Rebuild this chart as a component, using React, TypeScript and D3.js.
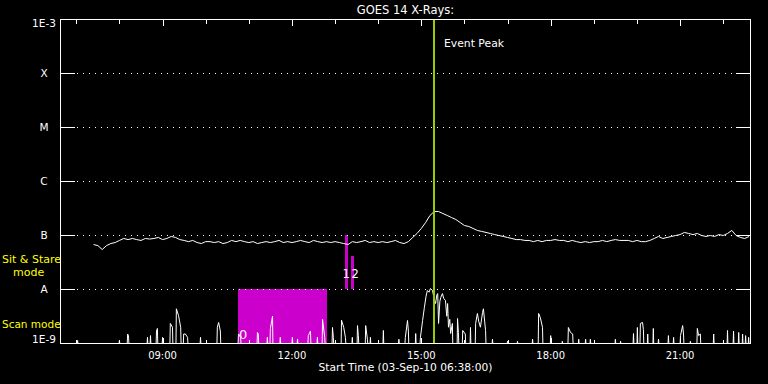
import React from "react";
import * as d3 from "d3";

const W = 768;
const H = 384;

const startHour = 6 + 38 / 60; // 06:38
const endHour = startHour + 16; // 22:38

const levelLabels = ["1E-9", "A", "B", "C", "M", "X", "1E-3"];
const levelValues = [1e-9, 1e-8, 1e-7, 1e-6, 1e-5, 1e-4, 1e-3];
const tickHours = [7, 8, 9, 10, 11, 12, 13, 14, 15, 16, 17, 18, 19, 20, 21, 22];
const majorTickHours = [9, 12, 15, 18, 21];
const majorTickLabels = ["09:00", "12:00", "15:00", "18:00", "21:00"];
const xTitle = "Start Time (03-Sep-10 06:38:00)";
const title = "GOES 14 X-Rays:";

// long channel (1-8 A), sampled every 0.1 h from 07:24, units of 1e-8 W/m^2
const longStartHour = 7.4;
const longStepHour = 0.1;
const longFlux = [
  6.8, 6.5, 5.5, 6.5, 7.1, 7.4, 8.1, 8.8, 8.4, 8.8,
  8.4, 8.1, 8.8, 8.6, 8.8, 9.2, 8.4, 8.8, 9.6, 9.2,
  8.4, 8.1, 7.7, 8.1, 7.4, 7.1, 7.7, 7.7, 7.4, 7.7,
  7.1, 7.4, 8.1, 7.7, 8.1, 7.7, 7.4, 7.7, 7.1, 7.4,
  7.7, 7.4, 7.7, 8.1, 7.4, 7.7, 7.4, 7.7, 8.1, 7.7,
  7.4, 8.1, 7.7, 7.4, 7.7, 7.4, 7.7, 7.4, 7.1, 6.8,
  7.7, 7.4, 7.7, 8.1, 7.4, 7.7, 7.4, 7.7, 7.4, 7.7,
  8.1, 7.4, 7.1, 7.7, 9.2, 10.9, 13.5, 17.4, 23.5, 27.8,
  27.8, 25.5, 23.5, 21.5, 19.8, 17.4, 15.3, 14.7, 13.5, 12.4,
  11.9, 11.4, 10.9, 10.4, 10.0, 9.6, 9.2, 8.8, 8.4, 8.4,
  8.1, 8.1, 7.7, 8.1, 7.7, 8.1, 8.1, 8.4, 8.1, 8.1,
  7.7, 8.1, 7.7, 7.4, 7.7, 7.4, 7.7, 7.7, 8.1, 7.7,
  8.1, 8.4, 8.1, 8.1, 8.1, 7.7, 8.1, 7.7, 7.7, 8.1,
  8.8, 9.6, 8.8, 9.2, 9.6, 10.0, 10.4, 11.4, 10.9, 10.4,
  10.9, 10.0, 9.6, 10.0, 9.6, 10.4, 10.0, 10.9, 12.4, 10.0,
  9.2, 8.8, 9.6,
];

// short channel (0.5-4 A) peaks: [hour, flux in 1e-9 W/m^2]
const shortSpikes: [number, number][] = [
  [7.03, 1.14], [8.0, 1.14], [8.19, 1.5], [8.21, 1.4], [8.65, 1.3], [8.72, 1.4],
  [8.86, 1.7], [8.88, 1.9], [9.0, 1.3], [9.18, 2.35], [9.23, 2.0], [9.32, 4.4],
  [9.37, 3.3], [9.42, 2.0], [9.49, 1.5], [9.53, 1.5], [9.58, 1.3], [9.88, 1.3],
  [10.27, 2.0], [10.3, 2.45], [10.34, 1.7], [10.76, 1.5], [10.81, 1.3], [11.2, 1.6],
  [11.22, 1.5], [11.43, 1.3], [11.5, 1.9], [11.55, 3.2], [11.73, 1.3], [12.01, 1.3],
  [12.13, 1.2], [12.38, 1.4], [12.43, 1.7], [12.59, 1.3], [12.71, 2.8], [12.76, 1.3],
  [12.94, 1.98], [12.96, 1.3], [13.15, 2.7], [13.2, 2.0], [13.24, 1.3], [13.4, 1.3],
  [13.52, 2.15], [13.54, 1.4], [13.71, 2.15], [13.75, 1.2], [13.82, 1.3], [14.12, 1.74],
  [14.48, 1.2], [14.63, 1.3], [14.68, 2.67], [14.7, 1.7], [14.87, 1.53], [14.98, 1.3],
  [15.03, 2.67], [15.07, 4.6], [15.11, 7.5], [15.14, 9.6], [15.18, 8.9], [15.21, 10.4],
  [15.26, 9.6], [15.3, 6.5], [15.33, 5.5], [15.36, 7.9], [15.38, 8.4], [15.4, 2.35],
  [15.43, 6.0], [15.45, 7.1], [15.49, 8.4], [15.52, 6.8], [15.56, 6.25], [15.59, 3.2],
  [15.61, 5.5], [15.63, 2.0], [15.66, 2.8], [15.68, 1.53], [15.72, 2.35],
  [15.84, 2.9], [15.86, 1.6], [15.96, 1.74], [16.02, 1.5], [16.14, 1.98], [16.26, 2.35],
  [16.3, 3.6], [16.33, 2.6], [16.37, 2.0], [16.42, 3.75], [16.44, 4.4], [16.49, 1.74],
  [16.65, 1.2], [17.0, 1.1], [17.23, 1.1], [17.58, 1.2], [17.72, 3.6], [17.76, 3.0],
  [17.81, 2.0], [18.0, 1.4], [18.27, 1.1], [18.41, 1.98], [18.46, 1.6], [18.51, 1.5],
  [18.65, 1.2], [18.81, 1.2], [18.92, 1.2], [19.5, 1.2], [19.62, 1.1], [19.92, 1.53],
  [20.01, 1.98], [20.08, 2.35], [20.13, 2.45], [20.15, 1.8], [20.25, 1.5], [20.38, 1.9],
  [20.5, 1.2], [20.73, 1.4], [20.85, 1.3], [21.01, 1.4], [21.06, 2.15], [21.08, 1.5],
  [21.24, 1.1], [21.4, 1.9], [21.43, 1.4], [21.47, 1.5], [21.78, 1.5], [22.1, 1.74],
  [22.24, 1.7], [22.36, 1.6], [22.45, 1.5], [22.52, 1.4], [22.59, 1.3],
];

const modeBlocks = [
  { label: "0", start: 10.74, end: 12.82, bottom: 1e-9, top: 1e-8 },
  { label: "1", start: 13.24, end: 13.31, bottom: 1e-8, top: 1e-7 },
  { label: "2", start: 13.36, end: 13.43, bottom: 1e-8, top: 4.1e-8 },
];
const eventPeakHour = 15.3;
const eventPeakLabel = "Event Peak";

const FONT = "DejaVu Sans, sans-serif";

export default function App() {
  const left = 60.5, right = 750.5, top = 19.5, bottom = 343.5;
  const x = d3.scaleLinear().domain([startHour, endHour]).range([left, right]);
  const y = d3.scaleLog().domain([1e-9, 1e-3]).range([bottom, top]).clamp(true);

  const longPts: [number, number][] = longFlux.map((v, i) => [longStartHour + i * longStepHour, v * 1e-8]);
  const line = d3.line<[number, number]>().x((d) => x(d[0])).y((d) => y(d[1]));
  const longPath = line(longPts) || "";

  const floor = 1e-9;
  const hw = 0.009;
  const shortPts: [number, number][] = [[startHour, floor]];
  shortSpikes.forEach(([h, v], i) => {
    const prev = shortSpikes[i - 1];
    const next = shortSpikes[i + 1];
    if (!prev || h - prev[0] > 0.06) shortPts.push([h - hw, floor]);
    shortPts.push([h, v * 1e-9]);
    if (!next || next[0] - h > 0.06) shortPts.push([h + hw, floor]);
  });
  shortPts.push([endHour, floor]);
  const shortPath = line(shortPts) || "";

  const peakX = Math.round(x(eventPeakHour));
  const scanBlock = modeBlocks[0];
  const stareBlocks = modeBlocks.slice(1);
  const stareLabelOffsets = [-2.5, 0.5];

  return (
    <svg
      width={W}
      height={H}
      style={{ position: "fixed", left: 0, top: 0, background: "#000", display: "block" }}
      fontFamily={FONT}
    >
      <rect x={0} y={0} width={W} height={H} fill="#000" />

      {/* mode blocks */}
      {modeBlocks.map((b, i) => (
        <rect
          key={"b" + i}
          x={Math.round(x(b.start))}
          y={y(b.top) - 0.5}
          width={Math.round(x(b.end)) - Math.round(x(b.start))}
          height={y(b.bottom) - y(b.top)}
          fill="#cc00cc"
          shapeRendering="crispEdges"
        />
      ))}

      {/* level gridlines and ticks */}
      {levelValues.slice(1, 6).map((v, i) => (
        <g key={"lv" + i} shapeRendering="crispEdges">
          <line x1={left} x2={75} y1={y(v)} y2={y(v)} stroke="#fff" />
          <line x1={736} x2={right} y1={y(v)} y2={y(v)} stroke="#fff" />
          <line x1={77} x2={735} y1={y(v)} y2={y(v)} stroke="#fff" strokeDasharray="1 5" />
        </g>
      ))}

      {/* data */}
      <path d={shortPath} fill="none" stroke="#fff" strokeWidth={1} />
      <path d={longPath} fill="none" stroke="#fff" strokeWidth={1} />

      {/* block labels */}
      <text x={Math.round(x(scanBlock.start)) + 1} y={339} fill="#fff" fontSize={13}>
        {scanBlock.label}
      </text>
      {stareBlocks.map((b, i) => (
        <text key={"sl" + i} x={Math.round(x(b.start)) + stareLabelOffsets[i]} y={278} fill="#fff" fontSize={11.5}>
          {b.label}
        </text>
      ))}

      {/* event peak */}
      <line x1={peakX} x2={peakX} y1={top} y2={bottom} stroke="#99cc00" strokeWidth={2} shapeRendering="crispEdges" />
      <text x={peakX + 10} y={47} fill="#fff" fontSize={10.8}>
        {eventPeakLabel}
      </text>

      {/* frame */}
      <rect x={left} y={top} width={right - left} height={bottom - top} fill="none" stroke="#fff" shapeRendering="crispEdges" />

      {/* time ticks */}
      {tickHours.map((h) => {
        const major = majorTickHours.includes(h);
        const len = major ? 6 : 4;
        const tx = Math.round(x(h)) + 0.5;
        return (
          <g key={"t" + h} shapeRendering="crispEdges">
            <line x1={tx} x2={tx} y1={top} y2={top + len} stroke="#fff" />
            <line x1={tx} x2={tx} y1={bottom} y2={bottom - len} stroke="#fff" />
          </g>
        );
      })}
      {majorTickHours.map((h, i) => (
        <text key={"tl" + h} x={x(h)} y={359} fill="#fff" fontSize={10} textAnchor="middle">
          {majorTickLabels[i]}
        </text>
      ))}
      <text x={(left + right) / 2} y={371} fill="#fff" fontSize={10.7} textAnchor="middle">
        {xTitle}
      </text>
      <text x={(left + right) / 2} y={14} fill="#fff" fontSize={11.5} textAnchor="middle">
        {title}
      </text>

      {/* level labels */}
      {levelLabels.map((lab, i) => {
        const yy = y(levelValues[i]);
        const by = i === 0 ? 343 : i === levelLabels.length - 1 ? 27 : yy + 3.5;
        return (
          <text key={"ll" + i} x={44} y={by} fill="#fff" fontSize={10.5} textAnchor="middle">
            {lab}
          </text>
        );
      })}

      {/* mode labels */}
      <text x={2} y={263} fill="#ffff00" fontSize={11}>Sit &amp; Stare</text>
      <text x={13} y={276} fill="#ffff00" fontSize={11}>mode</text>
      <text x={2} y={328} fill="#ffff00" fontSize={10.5}>Scan mode</text>
    </svg>
  );
}
